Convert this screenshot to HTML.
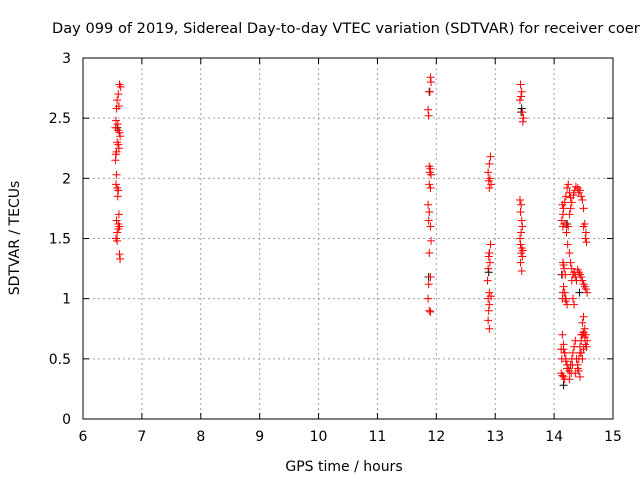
<!DOCTYPE html>
<html><head><meta charset="utf-8"><style>
body{margin:0;background:#fff}
svg{display:block;font-family:"DejaVu Sans","Liberation Sans",sans-serif}
</style></head><body>
<svg id="chart" width="640" height="480">
<text x="52" y="33" font-size="14.6">Day 099 of 2019, Sidereal Day-to-day VTEC variation (SDTVAR) for receiver coen</text>
<g id="grid"></g>
<g id="axes"></g>
<g id="marks"></g>
<text x="344" y="471" font-size="14" text-anchor="middle">GPS time / hours</text>
<text transform="translate(19,238) rotate(-90)" font-size="14" text-anchor="middle">SDTVAR / TECUs</text>
</svg>
<script>
const xTicks=[6,7,8,9,10,11,12,13,14,15];
const yTicks=[0,0.5,1,1.5,2,2.5,3];
const yTickLabels=["0","0.5","1","1.5","2","2.5","3"];
const redTimes=[6.62,6.64,6.6,6.58,6.61,6.57,6.56,6.59,6.55,6.6,6.62,6.63,6.58,6.6,6.61,6.57,6.56,6.55,6.57,6.56,6.58,6.6,6.59,6.61,6.57,6.6,6.62,6.6,6.58,6.56,6.58,6.62,6.63,
11.9,11.91,11.89,11.86,11.87,11.88,11.9,11.89,11.91,11.88,11.9,11.86,11.88,11.87,11.9,11.91,11.88,11.9,11.87,11.86,11.88,11.9,
12.92,12.9,12.88,12.91,12.89,12.93,12.9,12.92,12.9,12.89,12.91,12.88,12.87,12.9,12.93,12.88,12.9,12.89,12.88,12.9,
13.43,13.45,13.44,13.42,13.46,13.48,13.47,13.42,13.44,13.43,13.45,13.46,13.44,13.42,13.43,13.45,13.47,13.44,13.46,13.43,13.45,
14.14,14.16,14.15,14.13,14.17,14.15,14.18,14.2,14.22,14.24,14.26,14.28,14.3,14.33,14.35,14.37,14.4,14.42,14.44,14.46,14.48,14.5,14.52,14.54,14.5,14.53,14.55,
14.15,14.17,14.19,14.16,14.2,14.22,14.18,14.14,14.2,14.23,14.26,14.28,14.3,14.32,14.34,14.36,14.38,14.4,14.42,14.44,14.46,14.48,14.5,14.52,14.54,14.56,
14.16,14.18,14.2,14.22,14.24,14.26,14.28,14.3,14.32,14.34,14.36,14.4,14.42,14.44,14.46,14.48,14.5,14.52,14.54,14.56,14.55,14.53,14.5,14.48,14.46,14.44,
14.14,14.16,14.18,14.2,14.22,14.12,14.14,14.16,14.18,14.15,14.19,14.24,14.26,14.28,14.3,14.32,14.34,14.36,14.38,14.4,14.42,14.44,14.46,14.48,14.5,14.52,14.14,14.16,14.12,14.13,14.2,14.21,14.26,14.29,14.31];
const redValues=[2.78,2.76,2.7,2.65,2.6,2.58,2.48,2.45,2.42,2.4,2.38,2.35,2.3,2.28,2.25,2.22,2.2,2.15,2.03,1.95,1.92,1.9,1.85,1.7,1.65,1.62,1.6,1.58,1.55,1.5,1.48,1.37,1.33,
2.84,2.8,2.72,2.57,2.52,2.1,2.08,2.05,2.03,1.95,1.92,1.78,1.72,1.65,1.6,1.48,1.38,1.18,1.12,1.0,0.9,0.89,
2.18,2.12,2.05,2.0,1.98,1.95,1.92,1.45,1.38,1.35,1.3,1.25,1.15,1.05,1.02,1.0,0.95,0.9,0.82,0.75,
2.78,2.72,2.68,2.65,2.55,2.5,2.47,1.82,1.78,1.72,1.65,1.6,1.55,1.5,1.45,1.42,1.4,1.38,1.35,1.3,1.23,
1.78,1.75,1.7,1.65,1.62,1.6,1.8,1.85,1.92,1.95,1.88,1.84,1.8,1.86,1.9,1.93,1.92,1.88,1.9,1.85,1.82,1.75,1.62,1.55,1.6,1.5,1.47,
1.3,1.25,1.2,1.1,1.0,0.95,1.05,1.0,0.98,1.45,1.38,1.3,1.25,1.2,1.22,1.18,1.15,1.24,1.22,1.2,1.18,1.15,1.12,1.1,1.08,1.05,
0.58,0.55,0.5,0.45,0.42,0.4,0.45,0.5,0.55,0.6,0.38,0.42,0.5,0.6,0.7,0.8,0.85,0.75,0.7,0.65,0.6,0.62,0.58,0.5,0.55,0.35,
0.7,0.62,0.55,0.48,0.42,0.38,0.36,0.35,0.33,1.05,1.0,1.6,1.7,1.75,1.15,1.0,0.95,0.65,0.5,0.45,0.4,0.55,0.65,0.7,0.72,0.68,1.2,1.28,0.58,0.5,1.62,1.55,0.33,0.38,0.45];
const blackTimes=[6.58,11.88,11.87,12.9,12.89,13.44,13.45,14.13,14.16,14.22,14.43];
const blackValues=[2.42,2.72,1.18,1.38,1.22,2.55,2.58,1.2,0.28,1.62,1.05];
const L=83,R=613,T=58,B=419;
const xs=v=>L+(v-6)/9*(R-L);
const ys=v=>B-v/3*(B-T);
const NS="http://www.w3.org/2000/svg";
function mk(t,a,p){const e=document.createElementNS(NS,t);for(const k in a)e.setAttribute(k,a[k]);p.appendChild(e);return e;}
const grid=document.getElementById('grid'),axes=document.getElementById('axes'),marks=document.getElementById('marks');
xTicks.forEach((t,i)=>{const x=xs(t);
 if(i>0&&i<xTicks.length-1){const g=mk('line',{x1:x,x2:x,y1:T,y2:B,stroke:'#a0a0a0','stroke-dasharray':'2,3'},grid);
 
 }
 mk('line',{x1:x,x2:x,y1:B,y2:B-6,stroke:'#000'},axes);mk('line',{x1:x,x2:x,y1:T,y2:T+6,stroke:'#000'},axes);
 const tx=mk('text',{x:x,y:B+22,'font-size':14,'text-anchor':'middle'},axes);tx.textContent=t;
 
 });
yTicks.forEach((t,i)=>{const y=ys(t);
 if(i>0&&i<yTicks.length-1){const g=mk('line',{x1:L,x2:R,y1:y,y2:y,stroke:'#a0a0a0','stroke-dasharray':'2,3'},grid);
 
 }
 mk('line',{x1:L,x2:L+6,y1:y,y2:y,stroke:'#000'},axes);mk('line',{x1:R,x2:R-6,y1:y,y2:y,stroke:'#000'},axes);
 const tx=mk('text',{x:L-12,y:y+5,'font-size':14,'text-anchor':'end'},axes);tx.textContent=yTickLabels[i];
 
 });
const fr=mk('rect',{x:L,y:T,width:R-L,height:B-T,fill:'none',stroke:'#000'},axes);


function plus(t,v,c){const x=xs(t),y=ys(v);
 const p=mk('path',{d:`M${x-4},${y}H${x+4}M${x},${y-4}V${y+4}`,stroke:c,'stroke-width':1,fill:'none'},marks);
 
 }
blackTimes.forEach((t,i)=>plus(t,blackValues[i],'#000'));
redTimes.forEach((t,i)=>plus(t,redValues[i],'#f00'));
</script>
</body></html>
